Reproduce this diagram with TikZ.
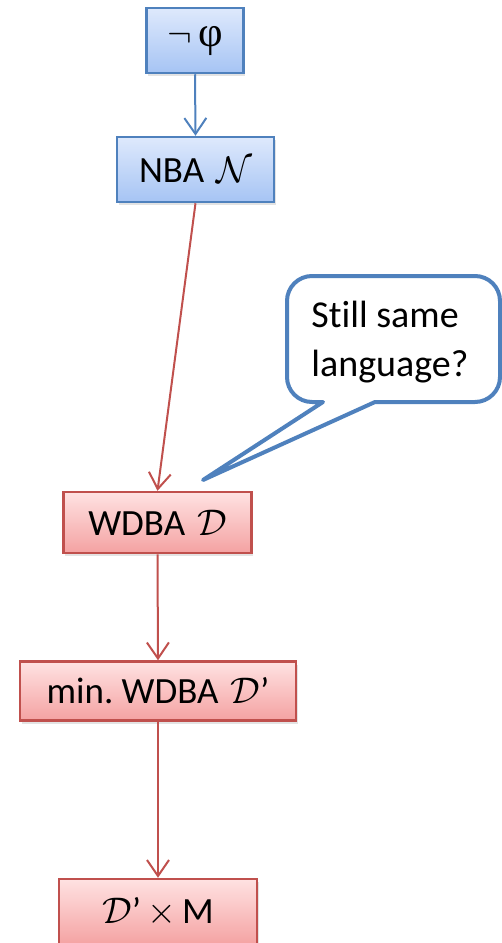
\documentclass[tikz,border=0pt]{standalone}
\usepackage{fontspec}
\setmainfont[Ligatures={NoCommon}]{Carlito}
\newfontfamily\phifont[Scale=1.15]{Liberation Serif}
\usetikzlibrary{arrows.meta,shadows}
% make the math symbol font scale freely
\DeclareFontShape{OMS}{cmsy}{m}{n}{<->cmsy10}{}
\DeclareFontShape{OML}{cmm}{m}{it}{<->cmmi10}{}

\definecolor{blueTop}{HTML}{DEE9FC}
\definecolor{blueBot}{HTML}{A6C4F4}
\definecolor{blueLine}{HTML}{4F81BD}
\definecolor{redTop}{HTML}{FFE2E2}
\definecolor{redBot}{HTML}{F4A2A2}
\definecolor{redLine}{HTML}{C0504D}

\tikzset{
  box/.style={rectangle, inner sep=0pt, line width=2.5pt,
    drop shadow={opacity=0.22, shadow xshift=1.5pt, shadow yshift=-3pt}},
  bluebox/.style={box, draw=blueLine, top color=blueTop, bottom color=blueBot},
  redbox/.style={box, draw=redLine, top color=redTop, bottom color=redBot},
  flow/.style={line width=2pt, -{Straight Barb[length=16pt,width=22pt]}},
  blueflow/.style={flow, draw=blueLine},
  redflow/.style={flow, draw=redLine},
  callout/.style={draw=blueLine, line width=4pt, fill=white, line join=round}
}

\begin{document}
\begin{tikzpicture}[x=1pt, y=-1pt, font=\fontsize{37}{44}\selectfont]
  \useasboundingbox (0,0) rectangle (502,943);

  % processing chain
  \node[bluebox, minimum width=97pt, minimum height=65pt] (neg) at (195,40.5)
    {$\neg$\,{\phifont φ}};
  \node[bluebox, minimum width=157pt, minimum height=65pt] (nba) at (195.5,169.5)
    {NBA\hspace{12pt}$\mathcal{N}$};
  \node[redbox, minimum width=188pt, minimum height=61pt] (wdba) at (157.5,522.5)
    {WDBA\hspace{12pt}$\mathcal{D}$};
  \node[redbox, minimum width=276pt, minimum height=59pt] (minw) at (158,691)
    {min.\ WDBA\hspace{12pt}$\mathcal{D}$’};
  \node[redbox, minimum width=198pt, minimum height=66pt] (prod) at (158,912)
    {$\mathcal{D}$’\,$\times$\,M};

  \draw[blueflow] (neg.south) -- (nba.north);
  \draw[redflow] (nba.south) -- (wdba.north);
  \draw[redflow] (wdba.south) -- (minw.north);
  \draw[redflow] (minw.south) -- (prod.north);

  % speech bubble pointing at the WDBA step
  \coordinate (tip) at (203,480);
  \draw[callout] (tip) -- (375,402) [rounded corners=25pt] -- (500,402)
    -- (500,276) -- (287,276) -- (287,402) [sharp corners] -- (323,402) -- cycle;
  \node[align=left, font=\fontsize{38}{49}\selectfont, inner sep=0pt] (note)
    at (390,342) {Still same\\language?};
\end{tikzpicture}
\end{document}
